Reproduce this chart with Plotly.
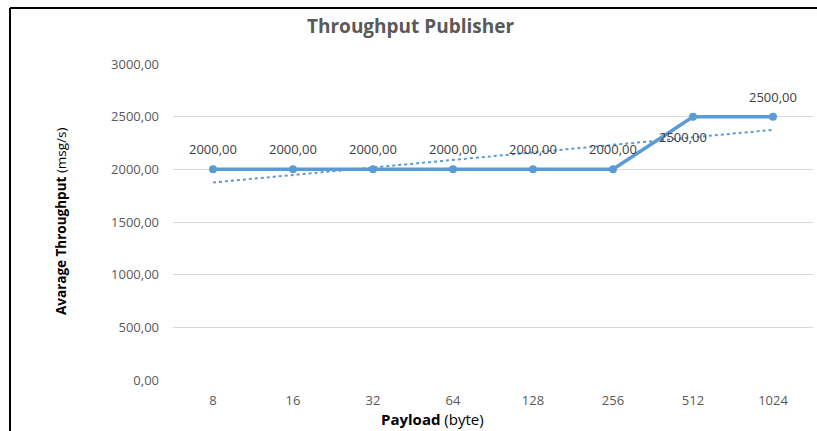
import numpy as np
import plotly.graph_objects as go

# Payload sizes (bytes) and the measured average throughput (msg/s)
payload = ["8", "16", "32", "64", "128", "256", "512", "1024"]
throughput = [2000, 2000, 2000, 2000, 2000, 2000, 2500, 2500]
y_ticks = [0, 500, 1000, 1500, 2000, 2500, 3000]

BLUE = "#5B9BD5"
GRAY = "#595959"
FONT = "Open Sans"


def fmt(v):
    return f"{v:.2f}".replace(".", ",")


# Linear trendline fitted over the category index
idx = np.arange(1, len(throughput) + 1)
slope, intercept = np.polyfit(idx, throughput, 1)
trend = slope * idx + intercept

fig = go.Figure()
fig.add_trace(go.Scatter(
    x=payload, y=trend, mode="lines",
    line=dict(color=BLUE, width=2, dash="dot"),
    hoverinfo="skip", showlegend=False,
))
fig.add_trace(go.Scatter(
    x=payload, y=throughput, mode="lines+markers",
    line=dict(color=BLUE, width=3.5),
    marker=dict(color=BLUE, size=8),
    showlegend=False,
))

# Data labels: above each point, except 512 which sits below-left
annotations = []
for i, (p, v) in enumerate(zip(payload, throughput)):
    if p == "512":
        xs, ys = -10, -20
    else:
        xs, ys = 0, 20
    annotations.append(dict(
        x=i, y=v, xref="x", yref="y", text=fmt(v), showarrow=False,
        xanchor="center", yanchor="middle",
        xshift=xs, yshift=ys, font=dict(family=FONT, size=13, color="#404040"),
    ))

# Chart and axis titles
annotations += [
    dict(text="<b>Throughput Publisher</b>", xref="paper", yref="paper",
         x=(410 - 173) / 640, y=1 + (64 - 26) / 316, showarrow=False,
         xanchor="center", yanchor="middle",
         font=dict(family=FONT, size=19, color=GRAY)),
    dict(text="<b>Avarage Throughput</b> (msg/s)", xref="paper", yref="paper",
         x=(61 - 173) / 640, y=(380 - 221) / 316, showarrow=False, textangle=-90,
         xanchor="center", yanchor="middle",
         font=dict(family=FONT, size=13.5, color="#000000")),
    dict(text="<b>Payload</b> (byte)", xref="paper", yref="paper",
         x=(432 - 173) / 640, y=-(419 - 380) / 316, showarrow=False,
         xanchor="center", yanchor="middle",
         font=dict(family=FONT, size=15, color="#000000")),
]

# Frame edges on the left and top of the chart area
top = 1 + (64 - 8) / 316
left = (10 - 173) / 640
shapes = [
    dict(type="line", xref="paper", yref="paper",
         x0=left, x1=left, y0=-0.2, y1=top,
         line=dict(color="#000000", width=2)),
    dict(type="line", xref="paper", yref="paper",
         x0=left, x1=1 + 4 / 640, y0=top, y1=top,
         line=dict(color="#000000", width=2)),
]

fig.update_layout(
    width=817, height=431,
    margin=dict(l=173, r=4, t=64, b=51),
    paper_bgcolor="white", plot_bgcolor="white",
    annotations=annotations, shapes=shapes,
    font=dict(family=FONT, size=13, color=GRAY),
)
fig.update_xaxes(
    type="category", range=[-0.5, len(payload) - 0.5],
    showgrid=False, showline=False, zeroline=False, ticks="",
    ticklabelstandoff=11,
    tickfont=dict(family=FONT, size=13, color=GRAY),
)
fig.update_yaxes(
    range=[0, 3000], tickvals=y_ticks, ticktext=[fmt(v) for v in y_ticks],
    showgrid=True, gridcolor="#D9D9D9", gridwidth=1,
    zeroline=False, showline=False, ticks="",
    ticklabelstandoff=13,
    tickfont=dict(family=FONT, size=13, color=GRAY),
)

fig.write_html("out.html")
